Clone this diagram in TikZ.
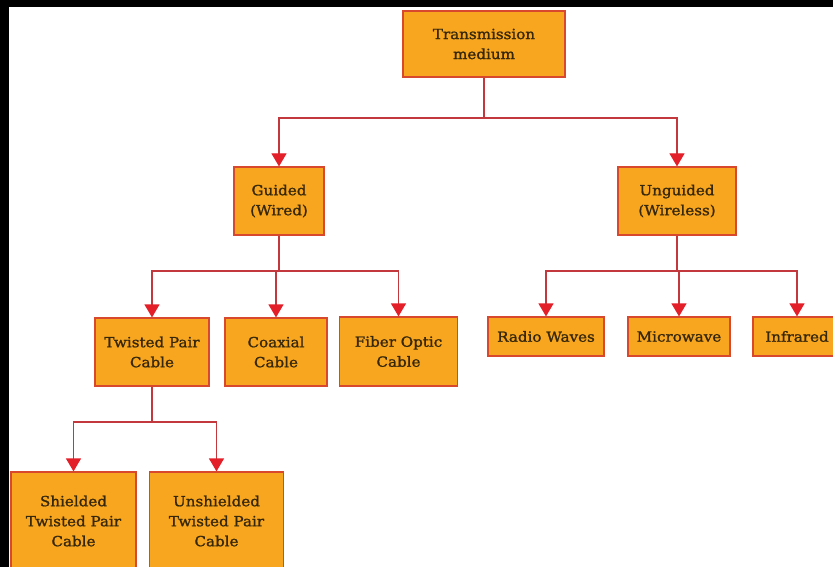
\documentclass[tikz,border=0pt]{standalone}
\usepackage{fontspec}
\setmainfont{DejaVu Serif}[FakeBold=1.2, FakeStretch=1.08]
\usetikzlibrary{arrows.meta}
\definecolor{boxfill}{HTML}{F8A51F}
\definecolor{boxline}{HTML}{D8482C}
\definecolor{wire}{HTML}{C2383C}
\definecolor{tipred}{HTML}{E3202A}
\definecolor{txt}{HTML}{35270A}
\tikzset{
  mbox/.style={draw=boxline, fill=boxfill, line width=1.2pt, text=txt,
    align=center, inner sep=0pt, font=\fontsize{14}{20}\selectfont},
  wireline/.style={draw=wire, line width=1.2pt},
  arr/.style={wireline, -{Triangle[width=15pt,length=13pt,color=tipred]}},
}
\begin{document}
\begin{tikzpicture}[x=1pt,y=-1pt]
\useasboundingbox (0,0) rectangle (833,567);
\fill[white] (0,0) rectangle (833,567);
\begin{scope}
\clip (0,0) rectangle (833,567);
% nodes
\node[mbox, minimum width=162pt, minimum height=66pt] (tm) at (484,44) {Transmission\\medium};
\node[mbox, minimum width=90pt, minimum height=68pt] (guided) at (279,201) {Guided\\(Wired)};
\node[mbox, minimum width=118pt, minimum height=68pt] (unguided) at (677,201) {Unguided\\(Wireless)};
\node[mbox, minimum width=114pt, minimum height=68pt] (tp) at (152,352) {Twisted Pair\\Cable};
\node[mbox, minimum width=102pt, minimum height=68pt] (coax) at (276,352) {Coaxial\\Cable};
\node[mbox, minimum width=118pt, minimum height=69pt] (fiber) at (398.5,351.5) {Fiber Optic\\Cable};
\node[mbox, minimum width=116pt, minimum height=39pt] (radio) at (546,336.5) {Radio Waves};
\node[mbox, minimum width=102pt, minimum height=39pt] (micro) at (679,336.5) {Microwave};
\node[mbox, minimum width=88pt, minimum height=39pt] (infra) at (797,336.5) {Infrared};
\node[mbox, minimum width=125pt, minimum height=98pt] (shield) at (73.5,521) {Shielded\\Twisted Pair\\Cable};
\node[mbox, minimum width=134pt, minimum height=98pt] (unshield) at (216.5,521) {Unshielded\\Twisted Pair\\Cable};
% junctions
\coordinate (j1) at (484,118);
\coordinate (j2) at (279,271);
\coordinate (j3) at (677,271);
\coordinate (j4) at (152,422);
\draw[wireline] (tm.south) -- (j1);
\draw[arr] (j1) -| (guided.north);
\draw[arr] (j1) -| (unguided.north);
\draw[wireline] (guided.south) -- (j2);
\draw[arr] (j2) -| (tp.north);
\draw[arr] (coax.north |- j2) -- (coax.north);
\draw[arr] (j2) -| (fiber.north);
\draw[wireline] (unguided.south) -- (j3);
\draw[arr] (j3) -| (radio.north);
\draw[arr] (j3) -| (micro.north);
\draw[arr] (j3) -| (infra.north);
\draw[wireline] (tp.south) -- (j4);
\draw[arr] (j4) -| (shield.north);
\draw[arr] (j4) -| (unshield.north);
% black borders
\fill[black] (0,0) rectangle (833,7);
\fill[black] (0,0) rectangle (9,567);
\end{scope}
\end{tikzpicture}
\end{document}
